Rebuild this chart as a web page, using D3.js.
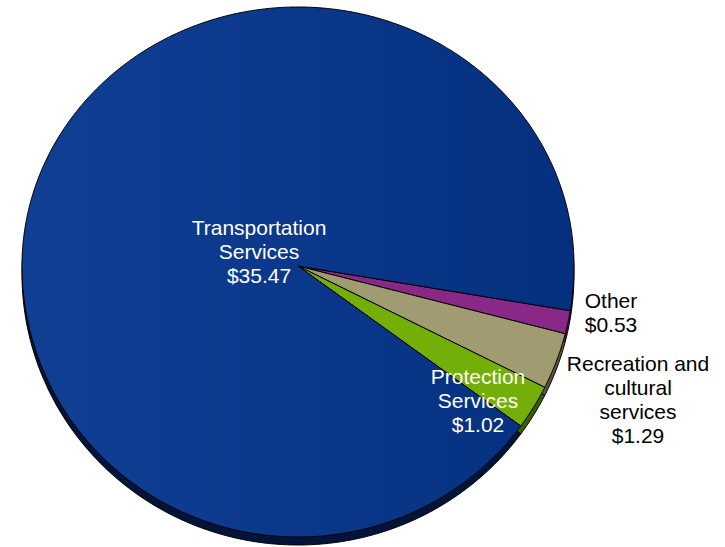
<!DOCTYPE html>
<html>
<head>
<meta charset="utf-8">
<script src="https://cdn.jsdelivr.net/npm/d3@7"></script>
<style>
  html, body { margin: 0; padding: 0; background: #ffffff; }
  svg { display: block; }
  text { font-family: "Liberation Sans", Arial, sans-serif; font-size: 21px; }
</style>
</head>
<body>
<svg id="chart" width="725" height="547"></svg>
<script>
// Spending by service area (dollars)
const categories = ["Other", "Recreation and cultural services", "Protection Services", "Transportation Services"];
const values = [0.53, 1.29, 1.02, 35.47];
const labelLines = [
  ["Other", "$0.53"],
  ["Recreation and", "cultural", "services", "$1.29"],
  ["Protection", "Services", "$1.02"],
  ["Transportation", "Services", "$35.47"]
];

const topColors = ["#8a2888", "#a19b72", "#74ae08", "url(#blueFace)"];
const rimColors = ["#4a1248", "#5a5538", "#3c5c04", "#03143b"];
const labelColors = ["#000000", "#000000", "#ffffff", "#ffffff"];

// Label anchors (centre x, first baseline y) for each category
const labelAnchor = {
  "Other": [611, 308],
  "Recreation and cultural services": [638, 371],
  "Protection Services": [478, 384],
  "Transportation Services": [259, 235]
};

const svg = d3.select("#chart");
const W = 725, H = 547;
svg.append("rect").attr("width", W).attr("height", H).attr("fill", "#fff");

const defs = svg.append("defs");
const g = defs.append("linearGradient").attr("id", "blueFace")
  .attr("x1", "0").attr("y1", "0").attr("x2", "1").attr("y2", "0");
g.append("stop").attr("offset", "0").attr("stop-color", "#103f94");
g.append("stop").attr("offset", "0.5").attr("stop-color", "#0b388b");
g.append("stop").attr("offset", "1").attr("stop-color", "#05307f");

// Tilted pie geometry: the near (lower) half is slightly taller than the far half
const cx = 298, cy = 266, rx = 276, ryTop = 259, ryBottom = 271, depth = 8;

function project(a, dy) {
  const c = Math.cos(a);
  return [cx + rx * Math.sin(a), cy - (c > 0 ? ryTop : ryBottom) * c + dy];
}

function slicePath(d, dy) {
  const n = Math.max(4, Math.ceil((d.endAngle - d.startAngle) / (Math.PI / 360)));
  const pts = [[cx, cy + dy]];
  for (let i = 0; i <= n; i++) {
    const a = d.startAngle + (d.endAngle - d.startAngle) * i / n;
    pts.push(project(a, dy));
  }
  return d3.line()(pts) + "Z";
}

const startA = 99.5 * Math.PI / 180;
const pie = d3.pie().sort(null).value(d => d)
  .startAngle(startA).endAngle(startA + 2 * Math.PI);
const arcs = pie(values);

// Side wall (shifted copy drawn underneath)
svg.append("g").selectAll("path.rim")
  .data(arcs).join("path")
  .attr("class", "rim")
  .attr("d", d => slicePath(d, depth))
  .attr("fill", (d, i) => rimColors[i])
  .attr("stroke", "#000")
  .attr("stroke-width", 1)
  .attr("stroke-linejoin", "round");

// Top faces
svg.append("g").selectAll("path.face")
  .data(arcs).join("path")
  .attr("class", "face")
  .attr("d", d => slicePath(d, 0))
  .attr("fill", (d, i) => topColors[i])
  .attr("stroke", "#000")
  .attr("stroke-width", 1)
  .attr("stroke-linejoin", "round");

// Labels
const lineH = 24;
const lab = svg.append("g");
categories.forEach((c, i) => {
  const [x, y] = labelAnchor[c];
  const t = lab.append("text")
    .attr("text-anchor", "middle")
    .attr("fill", labelColors[i]);
  labelLines[i].forEach((s, k) => {
    t.append("tspan").attr("x", x).attr("y", y + k * lineH).text(s);
  });
});
</script>
</body>
</html>
